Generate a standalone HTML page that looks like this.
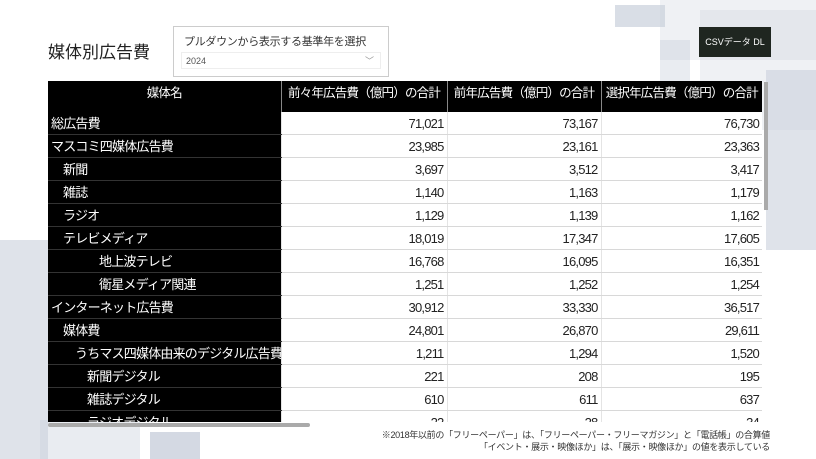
<!DOCTYPE html>
<html><head><meta charset="utf-8"><style>
body{margin:0;width:816px;height:459px;overflow:hidden;background:#fff;font-family:"Liberation Sans","Noto Sans CJK JP",sans-serif;position:relative}
.d{position:absolute;background:#c9d0dc}
.t{position:absolute;left:48px;top:81px;width:714px;height:341px;overflow:hidden;z-index:2;background:#fff}
table{border-collapse:collapse;font-size:13px;table-layout:fixed;width:714px;letter-spacing:-0.8px}
th{background:#000;color:#fff;font-weight:normal;height:31px;border-left:1px solid #888;padding:4px 3px 0;vertical-align:top;white-space:nowrap;overflow:hidden;font-size:12.5px;box-sizing:border-box;line-height:16px}
td{height:20px;line-height:20px;border-bottom:1px solid #d8d8d8;padding:2px 3px 0;text-align:right;color:#222;white-space:nowrap;overflow:hidden}
td.n{background:#000;color:#fff;text-align:left;border-bottom:1px solid #333}
td+td{border-left:1px solid #e4e4e4}
</style></head><body>
<div class="d" style="left:615px;top:5px;width:50px;height:22px;opacity:.7"></div>
<div class="d" style="left:660px;top:0;width:156px;height:60px;opacity:.3"></div>
<div class="d" style="left:700px;top:10px;width:116px;height:120px;opacity:.3"></div>
<div class="d" style="left:660px;top:40px;width:30px;height:70px;opacity:.4"></div>
<div class="d" style="left:766px;top:70px;width:50px;height:180px;opacity:.6"></div>
<div class="d" style="left:0;top:240px;width:48px;height:219px;opacity:.6"></div>
<div class="d" style="left:40px;top:420px;width:100px;height:39px;opacity:.4"></div>
<div class="d" style="left:150px;top:432px;width:50px;height:27px;opacity:.8"></div>
<div style="position:absolute;left:48px;top:38px;font-size:17px;color:#222">媒体別広告費</div>
<div style="position:absolute;left:173px;top:26px;width:214px;height:49px;border:1px solid #ccc;background:#fff">
<div style="position:absolute;left:10px;top:6px;font-size:11px;color:#333;letter-spacing:-0.3px">プルダウンから表示する基準年を選択</div>
<div style="position:absolute;left:7px;top:25px;width:200px;height:17px;border:1px solid #eee;font-size:9px;color:#555;line-height:17px;padding-left:4px;box-sizing:border-box">2024<span style="position:absolute;right:6px;color:#999">﹀</span></div></div>
<div style="position:absolute;left:699px;top:27px;width:72px;height:30px;background:#1f2620;color:#fff;font-size:9px;text-align:center;line-height:30px">CSVデータ DL</div>
<div class="t"><table>
<colgroup><col style="width:233px"><col style="width:166px"><col style="width:154px"><col style="width:161px"></colgroup>
<tr><th style="border-left:none">媒体名</th><th>前々年広告費（億円）の合計</th><th>前年広告費（億円）の合計</th><th>選択年広告費（億円）の合計</th></tr>
<tr><td class="n">総広告費</td><td>71,021</td><td>73,167</td><td>76,730</td></tr>
<tr><td class="n">マスコミ四媒体広告費</td><td>23,985</td><td>23,161</td><td>23,363</td></tr>
<tr><td class="n" style="padding-left:15px">新聞</td><td>3,697</td><td>3,512</td><td>3,417</td></tr>
<tr><td class="n" style="padding-left:15px">雑誌</td><td>1,140</td><td>1,163</td><td>1,179</td></tr>
<tr><td class="n" style="padding-left:15px">ラジオ</td><td>1,129</td><td>1,139</td><td>1,162</td></tr>
<tr><td class="n" style="padding-left:15px">テレビメディア</td><td>18,019</td><td>17,347</td><td>17,605</td></tr>
<tr><td class="n" style="padding-left:51px">地上波テレビ</td><td>16,768</td><td>16,095</td><td>16,351</td></tr>
<tr><td class="n" style="padding-left:51px">衛星メディア関連</td><td>1,251</td><td>1,252</td><td>1,254</td></tr>
<tr><td class="n">インターネット広告費</td><td>30,912</td><td>33,330</td><td>36,517</td></tr>
<tr><td class="n" style="padding-left:15px">媒体費</td><td>24,801</td><td>26,870</td><td>29,611</td></tr>
<tr><td class="n" style="padding-left:27px">うちマス四媒体由来のデジタル広告費</td><td>1,211</td><td>1,294</td><td>1,520</td></tr>
<tr><td class="n" style="padding-left:39px">新聞デジタル</td><td>221</td><td>208</td><td>195</td></tr>
<tr><td class="n" style="padding-left:39px">雑誌デジタル</td><td>610</td><td>611</td><td>637</td></tr>
<tr><td class="n" style="padding-left:39px">ラジオデジタル</td><td>22</td><td>28</td><td>34</td></tr>
</table></div>
<div style="position:absolute;left:764px;top:82px;width:4px;height:128px;background:#aaa;z-index:3"></div>
<div style="position:absolute;left:48px;top:423px;width:262px;height:4px;background:#aaa;border-radius:2px;z-index:3"></div>
<div style="position:absolute;right:46px;top:429px;font-size:9px;color:#333;text-align:right;line-height:12px;letter-spacing:-0.3px">※2018年以前の「フリーペーパー」は、「フリーペーパー・フリーマガジン」と「電話帳」の合算値<br>「イベント・展示・映像ほか」は、「展示・映像ほか」の値を表示している</div>
</body></html>
